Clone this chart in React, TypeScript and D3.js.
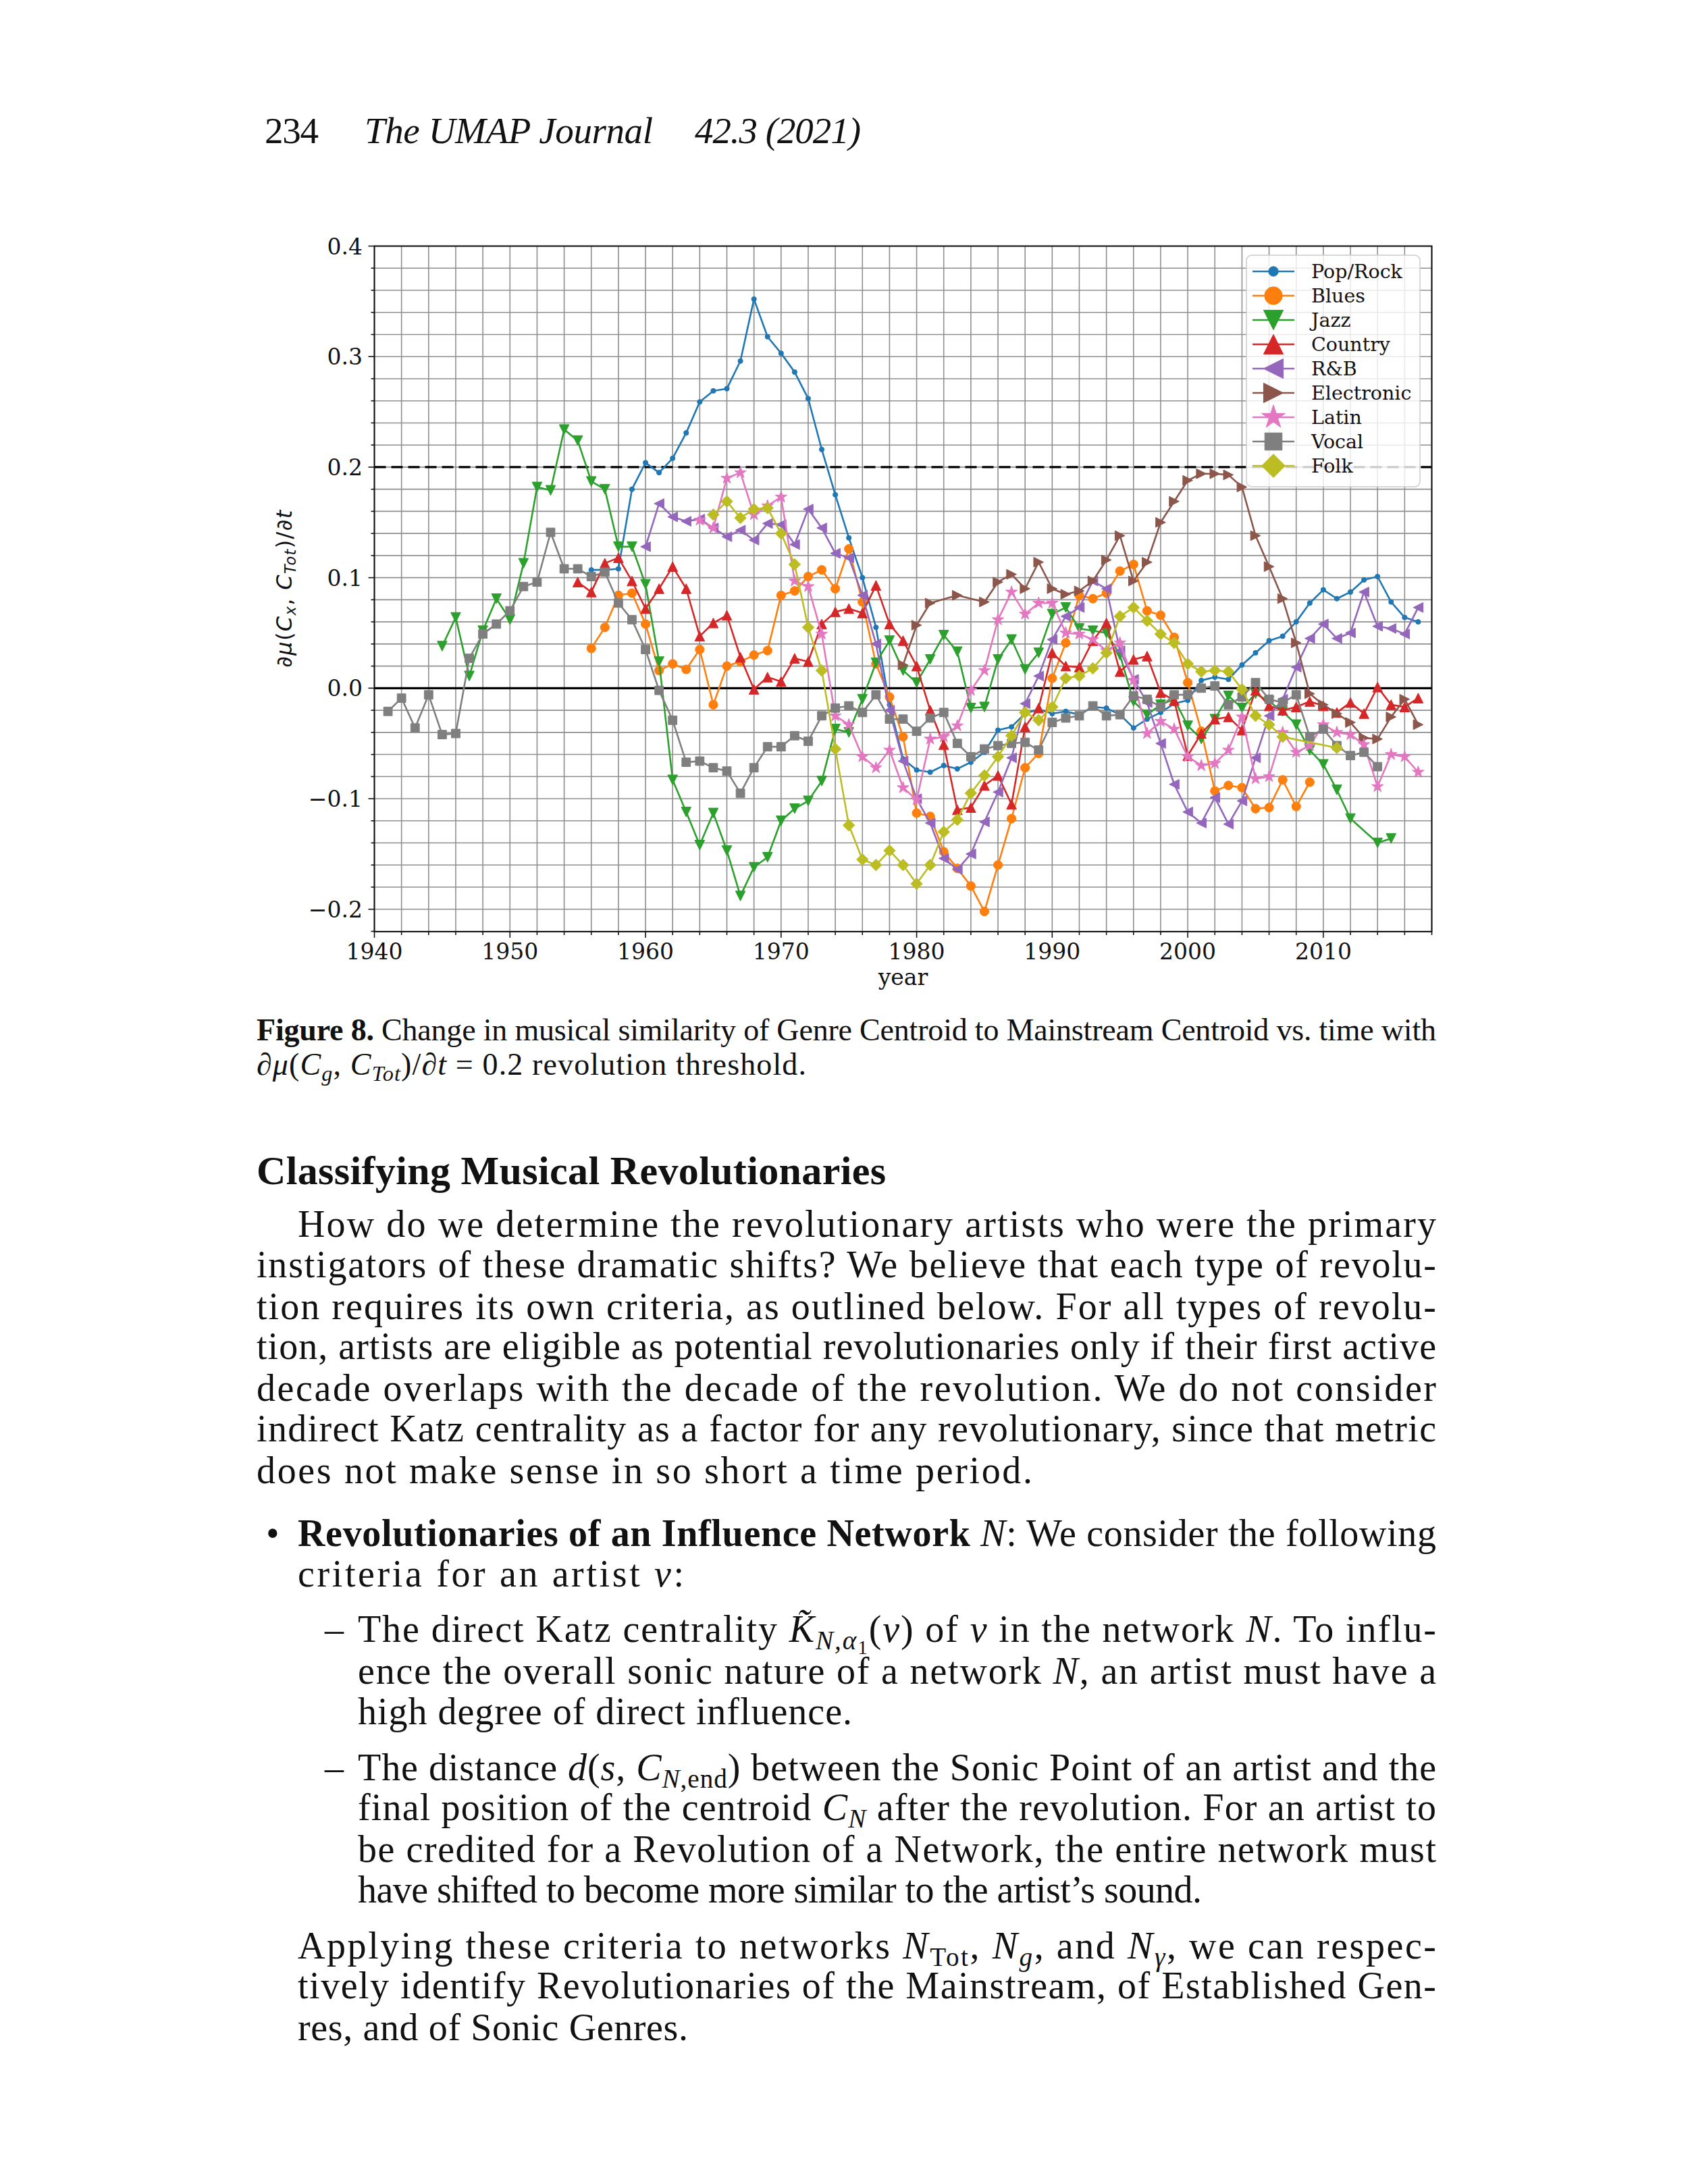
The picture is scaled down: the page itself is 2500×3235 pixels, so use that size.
import React from 'react';
import * as d3 from 'd3';

const W = 2500;
const H = 3235;

// ---------------- DATA ----------------
const genres = ['Pop/Rock', 'Blues', 'Jazz', 'Country', 'R&B', 'Electronic', 'Latin', 'Vocal', 'Folk'];
const colors = ['#1f77b4', '#ff7f0e', '#2ca02c', '#d62728', '#9467bd', '#8c564b', '#e377c2', '#7f7f7f', '#bcbd22'];
const markerTypes = ['point', 'circle', 'triDown', 'triUp', 'triLeft', 'triRight', 'star', 'square', 'diamond'];

const popRock: [number, number][] = [[1956,0.107],[1957,0.107],[1958,0.108],[1959,0.180],[1960,0.204],[1961,0.195],[1962,0.208],[1963,0.231],[1964,0.259],[1965,0.269],[1966,0.271],[1967,0.296],[1968,0.352],[1969,0.318],[1970,0.303],[1971,0.286],[1972,0.262],[1973,0.216],[1974,0.175],[1975,0.136],[1976,0.100],[1977,0.055],[1978,-0.015],[1979,-0.064],[1980,-0.074],[1981,-0.076],[1982,-0.070],[1983,-0.073],[1984,-0.067],[1985,-0.058],[1986,-0.038],[1987,-0.035],[1988,-0.023],[1989,-0.019],[1990,-0.023],[1991,-0.021],[1992,-0.024],[1993,-0.017],[1994,-0.018],[1995,-0.024],[1996,-0.036],[1997,-0.028],[1998,-0.022],[1999,-0.014],[2000,-0.011],[2001,0.007],[2002,0.010],[2003,0.008],[2004,0.021],[2005,0.032],[2006,0.043],[2007,0.047],[2008,0.060],[2009,0.077],[2010,0.089],[2011,0.081],[2012,0.087],[2013,0.098],[2014,0.101],[2015,0.078],[2016,0.064],[2017,0.060]];

const blues: [number, number][] = [[1956,0.036],[1957,0.055],[1958,0.084],[1959,0.086],[1960,0.058],[1961,0.016],[1962,0.022],[1963,0.017],[1964,0.035],[1965,-0.015],[1966,0.020],[1967,0.024],[1968,0.030],[1969,0.034],[1970,0.084],[1971,0.088],[1972,0.101],[1973,0.107],[1974,0.090],[1975,0.126],[1976,0.078],[1977,0.022],[1978,-0.008],[1979,-0.044],[1980,-0.113],[1981,-0.116],[1982,-0.148],[1983,-0.163],[1984,-0.179],[1985,-0.202],[1986,-0.160],[1987,-0.118],[1988,-0.072],[1989,-0.059],[1990,0.009],[1991,0.041],[1992,0.084],[1993,0.081],[1994,0.086],[1995,0.106],[1996,0.112],[1997,0.070],[1998,0.066],[1999,0.046],[2000,0.005],[2001,-0.039],[2002,-0.093],[2003,-0.088],[2004,-0.090],[2005,-0.109],[2006,-0.108],[2007,-0.083],[2008,-0.107],[2009,-0.085]];

const jazz: [number, number][] = [[1945,0.038],[1946,0.064],[1947,0.011],[1948,0.052],[1949,0.081],[1950,0.062],[1951,0.113],[1952,0.182],[1953,0.179],[1954,0.234],[1955,0.224],[1956,0.187],[1957,0.180],[1958,0.128],[1959,0.128],[1960,0.094],[1961,0.024],[1962,-0.083],[1963,-0.112],[1964,-0.142],[1965,-0.113],[1966,-0.147],[1967,-0.188],[1968,-0.162],[1969,-0.153],[1970,-0.120],[1971,-0.109],[1972,-0.102],[1973,-0.084],[1974,-0.037],[1975,-0.040],[1976,-0.010],[1977,0.023],[1978,0.043],[1979,0.016],[1980,0.005],[1981,0.026],[1982,0.048],[1983,0.033],[1984,-0.018],[1985,-0.017],[1986,0.026],[1987,0.044],[1988,0.017],[1989,0.032],[1990,0.067],[1991,0.073],[1992,0.054],[1993,0.052],[1994,0.050],[1995,0.030],[1996,-0.012],[1997,-0.024],[1998,-0.015],[1999,-0.010],[2000,-0.034],[2001,-0.046],[2002,-0.028],[2003,-0.007],[2004,-0.018],[2005,-0.005],[2006,-0.012],[2007,-0.021],[2008,-0.033],[2009,-0.056],[2010,-0.069],[2011,-0.092],[2012,-0.118],[2014,-0.140],[2015,-0.136]];

const country: [number, number][] = [[1955,0.096],[1956,0.087],[1957,0.113],[1958,0.118],[1959,0.097],[1960,0.072],[1961,0.090],[1962,0.110],[1963,0.090],[1964,0.047],[1965,0.059],[1966,0.066],[1967,0.028],[1968,-0.001],[1969,0.010],[1970,0.006],[1971,0.027],[1972,0.024],[1973,0.058],[1974,0.069],[1975,0.072],[1976,0.068],[1977,0.093],[1978,0.058],[1979,0.043],[1980,0.020],[1981,-0.020],[1982,-0.051],[1983,-0.110],[1984,-0.108],[1985,-0.088],[1986,-0.079],[1987,-0.105],[1988,-0.035],[1989,-0.018],[1990,0.032],[1991,0.020],[1992,0.019],[1993,0.043],[1994,0.059],[1995,0.015],[1996,0.026],[1997,0.029],[1998,-0.004],[1999,-0.011],[2000,-0.061],[2001,-0.041],[2002,-0.028],[2003,-0.026],[2004,-0.038],[2005,-0.002],[2006,-0.016],[2007,-0.020],[2008,-0.017],[2009,-0.012],[2010,-0.016],[2011,-0.022],[2012,-0.013],[2013,-0.023],[2014,0.001],[2015,-0.015],[2016,-0.017],[2017,-0.009]];

const rnb: [number, number][] = [[1960,0.128],[1961,0.167],[1962,0.155],[1963,0.151],[1964,0.153],[1965,0.145],[1966,0.137],[1967,0.143],[1968,0.134],[1969,0.149],[1970,0.148],[1971,0.130],[1972,0.162],[1973,0.145],[1974,0.122],[1975,0.118],[1976,0.084],[1977,0.040],[1978,-0.020],[1979,-0.066],[1980,-0.100],[1981,-0.122],[1982,-0.154],[1983,-0.164],[1984,-0.150],[1985,-0.121],[1986,-0.094],[1987,-0.063],[1988,-0.014],[1989,0.011],[1990,0.044],[1991,0.065],[1992,0.073],[1993,0.097],[1994,0.090],[1995,0.034],[1996,0.008],[1997,-0.013],[1998,-0.050],[1999,-0.087],[2000,-0.112],[2001,-0.122],[2002,-0.099],[2003,-0.123],[2004,-0.102],[2005,-0.063],[2006,-0.025],[2007,-0.010],[2008,0.019],[2009,0.045],[2010,0.058],[2011,0.045],[2012,0.050],[2013,0.087],[2014,0.056],[2015,0.054],[2016,0.049],[2017,0.073]];

const electronic: [number, number][] = [[1979,0.021],[1980,0.057],[1981,0.077],[1983,0.084],[1985,0.078],[1986,0.096],[1987,0.103],[1988,0.090],[1989,0.114],[1990,0.090],[1991,0.085],[1992,0.088],[1993,0.097],[1994,0.116],[1995,0.138],[1996,0.097],[1997,0.114],[1998,0.150],[1999,0.169],[2000,0.188],[2001,0.194],[2002,0.194],[2003,0.193],[2004,0.182],[2005,0.138],[2006,0.110],[2007,0.081],[2008,0.041],[2009,-0.005],[2010,-0.015],[2011,-0.023],[2012,-0.031],[2013,-0.045],[2014,-0.046],[2015,-0.026],[2016,-0.010],[2017,-0.033]];

const latin: [number, number][] = [[1964,0.152],[1965,0.145],[1966,0.190],[1967,0.195],[1968,0.157],[1969,0.165],[1970,0.173],[1971,0.097],[1972,0.092],[1973,0.049],[1974,-0.025],[1975,-0.033],[1976,-0.062],[1977,-0.072],[1978,-0.056],[1979,-0.090],[1980,-0.101],[1981,-0.046],[1982,-0.044],[1983,-0.034],[1984,-0.002],[1985,0.016],[1986,0.062],[1987,0.087],[1988,0.067],[1989,0.077],[1990,0.077],[1991,0.050],[1992,0.049],[1993,0.044],[1994,0.034],[1995,0.041],[1996,0.007],[1997,-0.041],[1998,-0.030],[1999,-0.037],[2000,-0.062],[2001,-0.070],[2002,-0.068],[2003,-0.056],[2004,-0.026],[2005,-0.082],[2006,-0.080],[2007,-0.040],[2008,-0.058],[2009,-0.052],[2010,-0.033],[2011,-0.040],[2012,-0.042],[2013,-0.051],[2014,-0.089],[2015,-0.060],[2016,-0.062],[2017,-0.076]];

const vocal: [number, number][] = [[1941,-0.021],[1942,-0.009],[1943,-0.036],[1944,-0.006],[1945,-0.042],[1946,-0.041],[1947,0.027],[1948,0.049],[1949,0.058],[1950,0.070],[1951,0.092],[1952,0.096],[1953,0.141],[1954,0.108],[1955,0.108],[1956,0.101],[1957,0.105],[1958,0.077],[1959,0.062],[1960,0.035],[1961,-0.002],[1962,-0.029],[1963,-0.067],[1964,-0.066],[1965,-0.072],[1966,-0.075],[1967,-0.095],[1968,-0.072],[1969,-0.053],[1970,-0.053],[1971,-0.043],[1972,-0.048],[1973,-0.025],[1974,-0.018],[1975,-0.016],[1976,-0.022],[1977,-0.006],[1978,-0.028],[1979,-0.028],[1980,-0.039],[1981,-0.027],[1982,-0.022],[1983,-0.050],[1984,-0.062],[1985,-0.055],[1986,-0.052],[1987,-0.050],[1988,-0.049],[1989,-0.056],[1990,-0.031],[1991,-0.027],[1992,-0.025],[1993,-0.016],[1994,-0.025],[1995,-0.024],[1996,-0.007],[1997,-0.010],[1998,-0.017],[1999,-0.006],[2000,-0.006],[2001,0.000],[2002,0.002],[2003,-0.015],[2004,-0.008],[2005,0.005],[2006,-0.010],[2007,-0.013],[2008,-0.006],[2009,-0.044],[2010,-0.037],[2011,-0.052],[2012,-0.061],[2013,-0.058],[2014,-0.071]];

const folk: [number, number][] = [[1965,0.157],[1966,0.169],[1967,0.154],[1968,0.162],[1969,0.163],[1970,0.140],[1971,0.112],[1972,0.055],[1973,0.016],[1974,-0.055],[1975,-0.124],[1976,-0.155],[1977,-0.160],[1978,-0.147],[1979,-0.160],[1980,-0.177],[1981,-0.160],[1982,-0.130],[1983,-0.119],[1984,-0.095],[1985,-0.079],[1986,-0.062],[1987,-0.043],[1988,-0.022],[1989,-0.029],[1990,-0.017],[1991,0.009],[1992,0.011],[1993,0.018],[1994,0.032],[1995,0.065],[1996,0.073],[1997,0.061],[1998,0.049],[1999,0.041],[2000,0.022],[2001,0.015],[2002,0.016],[2003,0.015],[2004,-0.001],[2005,-0.025],[2006,-0.033],[2007,-0.044],[2011,-0.054]];

const seriesData = [popRock, blues, jazz, country, rnb, electronic, latin, vocal, folk];

const xMajorTicks = [1940, 1950, 1960, 1970, 1980, 1990, 2000, 2010];
const yMajorTicks = [-0.2, -0.1, 0.0, 0.1, 0.2, 0.3, 0.4];
const yTickLabels = ['\u22120.2', '\u22120.1', '0.0', '0.1', '0.2', '0.3', '0.4'];
const thresholdValue = 0.2;

// ---------------- SCALES ----------------
const PL = 554.5, PR = 2120.5, PT = 364.5, PB = 1380;
const x = d3.scaleLinear().domain([1940, 2018]).range([PL, PR]);
const y = d3.scaleLinear().domain([-0.2203, 0.4]).range([PB, PT]);
const xMinor = d3.range(1940, 2019, 2);
const yMinor = d3.range(-11, 21).map((k) => k * 0.02);

function circlePath(r: number) {
  return `M${r},0A${r},${r} 0 1,1 ${-r},0A${r},${r} 0 1,1 ${r},0Z`;
}
function starPath(R: number) {
  const r = R * 0.382;
  const pts: string[] = [];
  for (let i = 0; i < 10; i++) {
    const a = -Math.PI / 2 + (i * Math.PI) / 5;
    const rad = i % 2 === 0 ? R : r;
    pts.push(`${(rad * Math.cos(a)).toFixed(2)},${(rad * Math.sin(a)).toFixed(2)}`);
  }
  return 'M' + pts.join('L') + 'Z';
}
function markerPath(type: string, k: number) {
  switch (type) {
    case 'point': return circlePath(3.6 * k);
    case 'circle': return circlePath(6.6 * k);
    case 'triUp': { const h = 7.3 * k; return `M0,${-h}L${h},${h}L${-h},${h}Z`; }
    case 'triDown': { const h = 7.3 * k; return `M0,${h}L${h},${-h}L${-h},${-h}Z`; }
    case 'triLeft': { const h = 7.3 * k; return `M${-h},0L${h},${-h}L${h},${h}Z`; }
    case 'triRight': { const h = 7.3 * k; return `M${h},0L${-h},${-h}L${-h},${h}Z`; }
    case 'square': { const h = 6.4 * k; return `M${-h},${-h}L${h},${-h}L${h},${h}L${-h},${h}Z`; }
    case 'diamond': { const h = 8.7 * k; return `M0,${-h}L${h},0L0,${h}L${-h},0Z`; }
    case 'star': return starPath(9.2 * k);
    default: return circlePath(5 * k);
  }
}

// ---------------- TEXT helpers ----------------
type Seg = string | { t: string; i?: boolean; b?: boolean; sub?: number };
function segs(list: Seg[], fs: number) {
  let shift = 0;
  return list.map((s, k) => {
    const seg = typeof s === 'string' ? { t: s } : s;
    const lvl = seg.sub || 0;
    const target = lvl === 0 ? 0 : lvl === 1 ? fs * 0.2 : fs * 0.32;
    const dy = target - shift;
    shift = target;
    const size = lvl === 0 ? undefined : lvl === 1 ? fs * 0.7 : fs * 0.52;
    return (
      <tspan key={k} dy={dy !== 0 ? dy : undefined} fontStyle={seg.i ? 'italic' : undefined}
        fontWeight={seg.b ? 'bold' : undefined} fontSize={size}>{seg.t}</tspan>
    );
  });
}

const BODY_FONT = "'Liberation Serif', 'Times New Roman', serif";
const BFS = 56;

type Line = { x: number; y: number; len?: number; parts: Seg[] };
const bodyLines: Line[] = [
  { x: 441, y: 1832, len: 1686, parts: ['How do we determine the revolutionary artists who were the primary'] },
  { x: 380, y: 1892, len: 1747, parts: ['instigators of these dramatic shifts? We believe that each type of revolu-'] },
  { x: 380, y: 1954, len: 1747, parts: ['tion requires its own criteria, as outlined below. For all types of revolu-'] },
  { x: 380, y: 2013, len: 1747, parts: ['tion, artists are eligible as potential revolutionaries only if their first active'] },
  { x: 380, y: 2075, len: 1747, parts: ['decade overlaps with the decade of the revolution. We do not consider'] },
  { x: 380, y: 2135, len: 1747, parts: ['indirect Katz centrality as a factor for any revolutionary, since that metric'] },
  { x: 380, y: 2197, len: 1149, parts: ['does not make sense in so short a time period.'] },
  { x: 441, y: 2290, len: 1686, parts: [{ t: 'Revolutionaries of an Influence Network ', b: true }, { t: 'N', i: true }, ': We consider the following'] },
  { x: 441, y: 2350, len: 572, parts: ['criteria for an artist ', { t: 'v', i: true }, ':'] },
  { x: 530, y: 2432, len: 1597, parts: ['The direct Katz centrality ', { t: 'K\u0303', i: true }, { t: 'N,\u03b1', i: true, sub: 1 }, { t: '1', sub: 2 }, '(', { t: 'v', i: true }, ') of ', { t: 'v', i: true }, ' in the network ', { t: 'N', i: true }, '. To influ-'] },
  { x: 530, y: 2494, len: 1597, parts: ['ence the overall sonic nature of a network ', { t: 'N', i: true }, ', an artist must have a'] },
  { x: 530, y: 2554, len: 732, parts: ['high degree of direct influence.'] },
  { x: 530, y: 2637, len: 1597, parts: ['The distance ', { t: 'd', i: true }, '(', { t: 's', i: true }, ', ', { t: 'C', i: true }, { t: 'N', i: true, sub: 1 }, { t: ',end', sub: 1 }, ') between the Sonic Point of an artist and the'] },
  { x: 530, y: 2696, len: 1597, parts: ['final position of the centroid ', { t: 'C', i: true }, { t: 'N', i: true, sub: 1 }, ' after the revolution. For an artist to'] },
  { x: 530, y: 2758, len: 1597, parts: ['be credited for a Revolution of a Network, the entire network must'] },
  { x: 530, y: 2818, len: 1250, parts: ['have shifted to become more similar to the artist\u2019s sound.'] },
  { x: 441, y: 2901, len: 1686, parts: ['Applying these criteria to networks ', { t: 'N', i: true }, { t: 'Tot', sub: 1 }, ', ', { t: 'N', i: true }, { t: 'g', i: true, sub: 1 }, ', and ', { t: 'N', i: true }, { t: '\u03b3', i: true, sub: 1 }, ', we can respec-'] },
  { x: 441, y: 2960, len: 1686, parts: ['tively identify Revolutionaries of the Mainstream, of Established Gen-'] },
  { x: 441, y: 3022, len: 578, parts: ['res, and of Sonic Genres.'] },
];

export default function App() {
  const lineGen = d3.line<[number, number]>().x((d) => x(d[0])).y((d) => y(d[1]));
  const tickFont = "'DejaVu Serif', serif";

  return (
    <div style={{ position: 'absolute', left: 0, top: 0, width: W, height: H, background: '#fff' }}>
      <svg width={W} height={H} viewBox={`0 0 ${W} ${H}`} style={{ display: 'block' }}>
        <rect x={0} y={0} width={W} height={H} fill="#fff" />

        {/* Running header */}
        <g fontFamily={BODY_FONT} fontSize={55} fill="#111" style={{ whiteSpace: 'pre' }}>
          <text x={392} y={212} textLength={80} lengthAdjust="spacing">234</text>
          <text x={540} y={212} fontStyle="italic" textLength={427} lengthAdjust="spacing">The UMAP Journal</text>
          <text x={1029} y={212} fontStyle="italic" textLength={246} lengthAdjust="spacing">42.3 (2021)</text>
        </g>

        {/* Chart */}
        <g>
          <rect x={PL} y={PT} width={PR - PL} height={PB - PT} fill="#fff" />
          {/* grid */}
          <g stroke="#8f8f8f" strokeWidth={1.6}>
            {xMinor.map((v) => (
              <line key={'gx' + v} x1={x(v)} x2={x(v)} y1={PT} y2={PB} />
            ))}
            {yMinor.map((v, k) => (
              <line key={'gy' + k} x1={PL} x2={PR} y1={y(v)} y2={y(v)} />
            ))}
          </g>
          {/* zero line and threshold */}
          <line x1={PL} x2={PR} y1={y(0)} y2={y(0)} stroke="#000" strokeWidth={3.2} />
          <line x1={PL} x2={PR} y1={y(thresholdValue)} y2={y(thresholdValue)} stroke="#000" strokeWidth={3.4} strokeDasharray="17 8" />

          {/* series */}
          {seriesData.map((data, si) => (
            <g key={'s' + si}>
              <path d={lineGen(data) || ''} fill="none" stroke={colors[si]} strokeWidth={2.6} strokeLinejoin="round" />
              {data.map((d, k) => (
                <path key={k} d={markerPath(markerTypes[si], 1)} transform={`translate(${x(d[0])},${y(d[1])})`}
                  fill={colors[si]} stroke={colors[si]} strokeWidth={1} />
              ))}
            </g>
          ))}

          {/* spines */}
          <rect x={PL} y={PT} width={PR - PL} height={PB - PT} fill="none" stroke="#111" strokeWidth={2} />

          {/* ticks */}
          <g stroke="#111" strokeWidth={1.6}>
            {xMinor.map((v) => (
              <line key={'tx' + v} x1={x(v)} x2={x(v)} y1={PB} y2={PB + (v % 10 === 0 ? 9 : 5)} />
            ))}
            {yMinor.map((v, k) => {
              const major = Math.abs(Math.round(v * 10) - v * 10) < 1e-6;
              return <line key={'ty' + k} x1={PL} x2={PL - (major ? 9 : 5)} y1={y(v)} y2={y(v)} />;
            })}
          </g>
          <g fontFamily={tickFont} fontSize={33} fill="#111">
            {xMajorTicks.map((v) => (
              <text key={'lx' + v} x={x(v)} y={1421} textAnchor="middle">{v}</text>
            ))}
            {yMajorTicks.map((v, k) => (
              <text key={'ly' + k} x={537} y={y(v) + 12} textAnchor="end">{yTickLabels[k]}</text>
            ))}
            <text x={(PL + PR) / 2} y={1459} textAnchor="middle">year</text>
          </g>
          {/* y label */}
          <text transform={`translate(432, ${(PT + PB) / 2}) rotate(-90)`} textAnchor="middle"
            fontFamily="'DejaVu Sans', sans-serif" fontSize={32} fill="#111" textLength={233} lengthAdjust="spacing"
            style={{ whiteSpace: 'pre' }}>
            {segs(['\u2202', { t: '\u03bc', i: true }, '(', { t: 'C', i: true }, { t: 'x', i: true, sub: 1 }, ', ', { t: 'C', i: true }, { t: 'Tot', i: true, sub: 1 }, ')/\u2202', { t: 't', i: true }], 32)}
          </text>

          {/* legend */}
          <g>
            <rect x={1846} y={378} width={257} height={343} rx={8} ry={8} fill="#fff" fillOpacity={0.8} stroke="#cccccc" strokeWidth={1.5} />
            {genres.map((g, i) => {
              const cy = 402 + i * 36;
              return (
                <g key={'lg' + i}>
                  <line x1={1855} x2={1917} y1={cy} y2={cy} stroke={colors[i]} strokeWidth={2.6} />
                  <path d={markerPath(markerTypes[i], 2)} transform={`translate(1886,${cy})`} fill={colors[i]} stroke={colors[i]} strokeWidth={1} />
                  <text x={1942} y={cy + 10} fontFamily={tickFont} fontSize={28.5} fill="#111">{g}</text>
                </g>
              );
            })}
          </g>
        </g>

        {/* Caption */}
        <g fontFamily={BODY_FONT} fontSize={46} fill="#111" style={{ whiteSpace: 'pre' }}>
          <text x={380} y={1541} textLength={1747} lengthAdjust="spacing">
            {segs([{ t: 'Figure 8.', b: true }, ' Change in musical similarity of Genre Centroid to Mainstream Centroid vs. time with'], 46)}
          </text>
          <text x={380} y={1592} textLength={814} lengthAdjust="spacing">
            {segs(['\u2202', { t: '\u03bc', i: true }, '(', { t: 'C', i: true }, { t: 'g', i: true, sub: 1 }, ', ', { t: 'C', i: true }, { t: 'Tot', i: true, sub: 1 }, ')/\u2202', { t: 't', i: true }, ' = 0.2 revolution threshold.'], 46)}
          </text>
        </g>

        {/* Heading */}
        <text x={380} y={1754} fontFamily={BODY_FONT} fontSize={60} fontWeight="bold" fill="#111" textLength={932} lengthAdjust="spacing">
          Classifying Musical Revolutionaries
        </text>

        {/* Body */}
        <g fontFamily={BODY_FONT} fontSize={BFS} fill="#111" style={{ whiteSpace: 'pre' }}>
          <text x={394} y={2290}>{'\u2022'}</text>
          <text x={481} y={2432}>{'\u2013'}</text>
          <text x={481} y={2637}>{'\u2013'}</text>
          {bodyLines.map((ln, k) => (
            <text key={'bl' + k} x={ln.x} y={ln.y} textLength={ln.len} lengthAdjust="spacing">
              {segs(ln.parts, BFS)}
            </text>
          ))}
        </g>
      </svg>
    </div>
  );
}
